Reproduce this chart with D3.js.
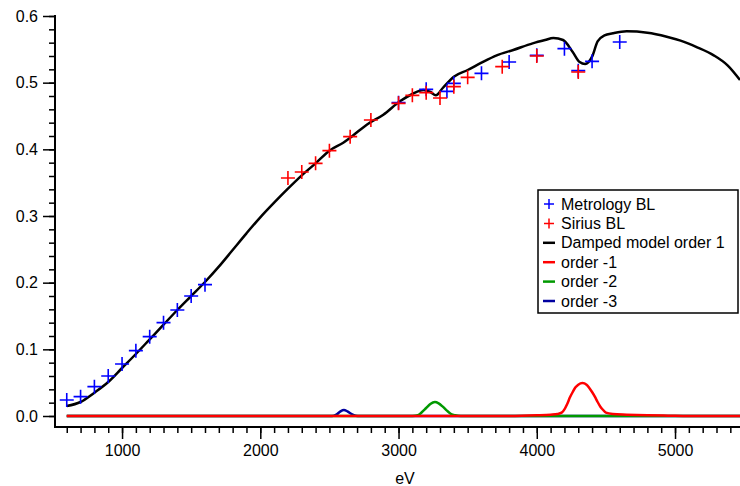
<!DOCTYPE html>
<html>
<head>
<meta charset="utf-8">
<script src="https://cdn.jsdelivr.net/npm/d3@7"></script>
<style>
  body { margin: 0; background: #fff; }
  svg { font-family: "Liberation Sans", Arial, sans-serif; }
</style>
</head>
<body>
<div id="chart"></div>
<script>
let width = 740,
  height = 486;

// measured points
let metroEV = [600, 700, 800, 900, 1000, 1100, 1200, 1300, 1400, 1500, 1600,
  3000, 3200, 3350, 3400, 3600, 3800, 4000, 4200, 4300, 4400, 4600];
let metroVal = [0.024, 0.029, 0.044, 0.060, 0.078, 0.098, 0.119, 0.140, 0.159, 0.180, 0.197,
  0.470, 0.490, 0.487, 0.499, 0.514, 0.531, 0.541, 0.551, 0.518, 0.532, 0.561];

let siriusEV = [2200, 2300, 2400, 2500, 2650, 2800, 3000, 3100, 3200, 3300, 3400, 3500, 3750, 4000, 4300];
let siriusVal = [0.357, 0.366, 0.379, 0.398, 0.419, 0.444, 0.469, 0.481, 0.485, 0.477, 0.494, 0.508, 0.524, 0.540, 0.516];

// model curves
let modelEV = [600, 700, 800, 900, 1000, 1100, 1200, 1300, 1400, 1500, 1600, 1700, 1800, 1900, 2000,
  2100, 2200, 2300, 2400, 2500, 2600, 2660, 2770, 2890, 3010, 3100, 3180, 3230, 3270, 3320, 3400,
  3500, 3600, 3710, 3830, 3970, 4060, 4120, 4190, 4260, 4310, 4350, 4400, 4440, 4490, 4550, 4650,
  4800, 4940, 5040, 5160, 5280, 5380, 5470];
let modelVal = [0.015, 0.021, 0.035, 0.051, 0.072, 0.093, 0.115, 0.137, 0.159, 0.180, 0.201, 0.224, 0.249, 0.274, 0.298,
  0.320, 0.341, 0.361, 0.379, 0.398, 0.410, 0.419, 0.437, 0.452, 0.472, 0.483, 0.489, 0.486, 0.481, 0.492, 0.509,
  0.519, 0.530, 0.541, 0.549, 0.559, 0.564, 0.567, 0.564, 0.546, 0.531, 0.528, 0.539, 0.562, 0.571, 0.574, 0.577,
  0.575, 0.569, 0.563, 0.553, 0.541, 0.526, 0.504];

let m1EV = [600, 3800, 4000, 4100, 4150, 4180, 4200, 4220, 4240, 4260, 4280, 4300, 4330, 4360, 4380, 4400,
  4420, 4440, 4460, 4480, 4500, 4550, 4650, 4800, 4950, 5100, 5470];
let m1Val = [0, 0, 0.001, 0.002, 0.003, 0.005, 0.010, 0.018, 0.028, 0.036, 0.043, 0.047, 0.0495, 0.047, 0.042, 0.036,
  0.029, 0.021, 0.014, 0.009, 0.005, 0.003, 0.002, 0.001, 0.0005, 0, 0];

let m2EV = [600, 3100, 3140, 3170, 3200, 3230, 3263, 3290, 3320, 3350, 3380, 3410, 3450, 5470];
let m2Val = [0, 0, 0.001, 0.006, 0.012, 0.018, 0.021, 0.019, 0.014, 0.008, 0.003, 0.001, 0, 0];

let m3EV = [600, 2520, 2550, 2580, 2605, 2630, 2660, 2690, 2720, 5470];
let m3Val = [0, 0, 0.002, 0.007, 0.009, 0.007, 0.003, 0.0005, 0, 0];

let yTicks = [0, 0.1, 0.2, 0.3, 0.4, 0.5, 0.6];
let xTicks = [1000, 2000, 3000, 4000, 5000];

let legendNames = ["Metrology BL", "Sirius BL", "Damped model order 1", "order -1", "order -2", "order -3"];

const zip = (a, b) => a.map((d, i) => ({ ev: d, v: b[i] }));

const x = d3.scaleLinear().domain([515, 5470]).range([55, 740]);
const y = d3.scaleLinear().domain([0, 0.6]).range([416, 16]);
const axisY = 427;

const svg = d3
  .select("#chart")
  .append("svg")
  .attr("width", width)
  .attr("height", height);

svg.append("defs").append("clipPath").attr("id", "plot")
  .append("rect").attr("x", 55).attr("y", 0).attr("width", 685).attr("height", axisY);

// y axis (left, offset style)
const yAxis = d3.axisLeft(y).tickValues(yTicks).tickFormat(d3.format(".1f")).tickSize(12).tickPadding(5);
const yMinor = d3.axisLeft(y).tickValues(d3.range(0, 0.601, 0.02)).tickFormat("").tickSize(6);

svg.append("g").attr("transform", "translate(55,0)").call(yMinor)
  .call((g) => g.select(".domain").remove());
svg.append("g").attr("transform", "translate(55,0)").call(yAxis)
  .call((g) => g.select(".domain").remove())
  .call((g) => g.selectAll("text").attr("font-size", 16).attr("fill", "#000"));
svg.append("line").attr("x1", 55).attr("x2", 55).attr("y1", 15).attr("y2", axisY + 1)
  .attr("stroke", "#000").attr("stroke-width", 2);

// x axis
const xAxis = d3.axisBottom(x).tickValues(xTicks).tickFormat(d3.format("d")).tickSize(12).tickPadding(6);
const xMinor = d3.axisBottom(x).tickValues(d3.range(600, 5470, 100)).tickFormat("").tickSize(6);

svg.append("g").attr("transform", `translate(0,${axisY})`).call(xMinor)
  .call((g) => g.select(".domain").remove());
svg.append("g").attr("transform", `translate(0,${axisY})`).call(xAxis)
  .call((g) => g.select(".domain").remove())
  .call((g) => g.selectAll("text").attr("font-size", 16).attr("fill", "#000"));
svg.append("line").attr("x1", 54).attr("x2", 740).attr("y1", axisY).attr("y2", axisY)
  .attr("stroke", "#000").attr("stroke-width", 2);

svg.selectAll(".tick line").attr("stroke-width", 1.5);

svg.append("text").attr("x", 405).attr("y", 484).attr("text-anchor", "middle")
  .attr("font-size", 16).text("eV");

// curves
const line = d3.line().x((d) => x(d.ev)).y((d) => y(d.v)).curve(d3.curveMonotoneX);
const plot = svg.append("g").attr("clip-path", "url(#plot)");

const curves = [
  { data: zip(m3EV, m3Val), color: "#0000a0", w: 2.5 },
  { data: zip(m2EV, m2Val), color: "#009900", w: 2.5 },
  { data: zip(m1EV, m1Val), color: "#ff0000", w: 2.5 },
  { data: zip(modelEV, modelVal), color: "#000", w: 2.5 },
];
curves.forEach((c) => {
  plot.append("path").datum(c.data).attr("fill", "none").attr("stroke", c.color)
    .attr("stroke-width", c.w).attr("stroke-linejoin", "round").attr("d", line);
});

// crosses
function crosses(data, color) {
  const g = plot.append("g").attr("stroke", color).attr("stroke-width", 1.6);
  g.selectAll("path").data(data).join("path")
    .attr("d", (d) => `M${x(d.ev) - 7},${y(d.v)}h14M${x(d.ev)},${y(d.v) - 7}v14`);
}
crosses(zip(metroEV, metroVal), "#0000ff");
crosses(zip(siriusEV, siriusVal), "#ff0000");

// legend
const leg = svg.append("g");
leg.append("rect").attr("x", 538).attr("y", 190).attr("width", 200).attr("height", 123)
  .attr("fill", "#fff").attr("stroke", "#000").attr("stroke-width", 1.5);
const legColors = ["#0000ff", "#ff0000", "#000", "#ff0000", "#009900", "#0000a0"];
legendNames.forEach((name, i) => {
  const ly = 204 + i * 19.4;
  if (i < 2) {
    leg.append("path").attr("d", `M${544},${ly}h10M${549},${ly - 5}v10`)
      .attr("stroke", legColors[i]).attr("stroke-width", 1.5);
  } else {
    leg.append("line").attr("x1", 543).attr("x2", 555).attr("y1", ly).attr("y2", ly)
      .attr("stroke", legColors[i]).attr("stroke-width", 2.5);
  }
  leg.append("text").attr("x", 561).attr("y", ly).attr("dy", "0.35em")
    .attr("font-size", 16).text(name);
});
</script>
</body>
</html>
